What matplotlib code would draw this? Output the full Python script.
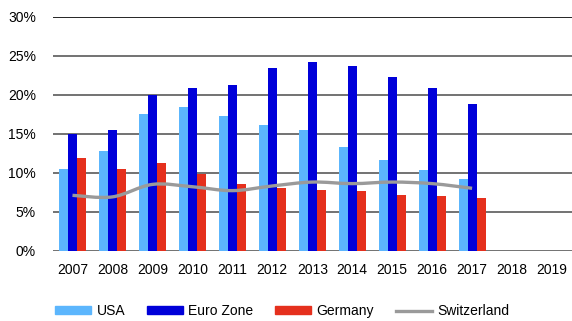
import numpy as np
import matplotlib
matplotlib.use("Agg")
import matplotlib.pyplot as plt
from matplotlib.path import Path
from matplotlib.patches import PathPatch
from matplotlib.lines import Line2D
from matplotlib.patches import Patch
from matplotlib.ticker import FuncFormatter

plt.rcParams['font.family'] = ['Liberation Sans', 'DejaVu Sans']

years = ['2007', '2008', '2009', '2010', '2011', '2012', '2013',
         '2014', '2015', '2016', '2017', '2018', '2019']
usa = [10.5, 12.8, 17.5, 18.4, 17.3, 16.1, 15.5, 13.3, 11.6, 10.4, 9.2]
euro_zone = [15.0, 15.5, 20.0, 20.9, 21.2, 23.4, 24.2, 23.7, 22.3, 20.9, 18.8]
germany = [11.9, 10.5, 11.2, 9.8, 8.5, 8.0, 7.8, 7.7, 7.2, 7.0, 6.8]
switzerland = [7.1, 6.9, 8.5, 8.2, 7.7, 8.3, 8.8, 8.6, 8.8, 8.6, 8.0]

c_usa = '#5cb6fd'
c_euro = '#0000d9'
c_ger = '#e5301d'
c_swi = '#9a9a9a'

fig = plt.figure(figsize=(5.72, 3.21), dpi=100)
ax = fig.add_axes([52.5 / 572, 1 - 250.7 / 321, 519.5 / 572, 234 / 321])

x = np.arange(len(usa))
w = 0.225
ax.bar(x - w, usa, w, color=c_usa, zorder=3)
ax.bar(x, euro_zone, w, color=c_euro, zorder=3)
ax.bar(x + w, germany, w, color=c_ger, zorder=3)


# smoothed line through the points (Catmull-Rom as cubic Bezier segments)
def smooth_path(xs, ys):
    pts = np.column_stack([xs, ys]).astype(float)
    verts = [pts[0]]
    codes = [Path.MOVETO]
    n = len(pts)
    for i in range(n - 1):
        p0 = pts[i - 1] if i > 0 else pts[i]
        p1 = pts[i]
        p2 = pts[i + 1]
        p3 = pts[i + 2] if i + 2 < n else pts[i + 1]
        verts += [p1 + (p2 - p0) / 6, p2 - (p3 - p1) / 6, p2]
        codes += [Path.CURVE4] * 3
    return Path(verts, codes)


ax.add_patch(PathPatch(smooth_path(x, switzerland), fill=False,
                       edgecolor=c_swi, lw=2.4, zorder=4, capstyle='butt'))

ax.set_xlim(-0.5, len(years) - 0.5)
ax.set_ylim(0, 30)
ax.set_yticks(range(0, 31, 5))
ax.yaxis.set_major_formatter(FuncFormatter(lambda v, p: f'{v:.0f}%'))
ax.set_xticks(range(len(years)))
ax.set_xticklabels(years)
ax.tick_params(length=0, labelsize=10, colors='black')
ax.tick_params(axis='x', pad=9)
ax.tick_params(axis='y', pad=12)
for s in ax.spines.values():
    s.set_visible(False)
for v in range(0, 31, 5):
    ax.axhline(v, color='black' if v == 30 else '#5a5a5a', lw=1.2, zorder=1)

handles = [Patch(color=c_usa), Patch(color=c_euro), Patch(color=c_ger),
           Line2D([], [], color=c_swi, lw=2.4)]
fig.legend(handles, ['USA', 'Euro Zone', 'Germany', 'Switzerland'],
           loc='center', bbox_to_anchor=(282 / 572, 1 - 311 / 321),
           ncol=4, frameon=False, fontsize=10, handlelength=2.6,
           handleheight=0.5, handletextpad=0.4, columnspacing=1.55)

fig.savefig('out.png', dpi=100)
